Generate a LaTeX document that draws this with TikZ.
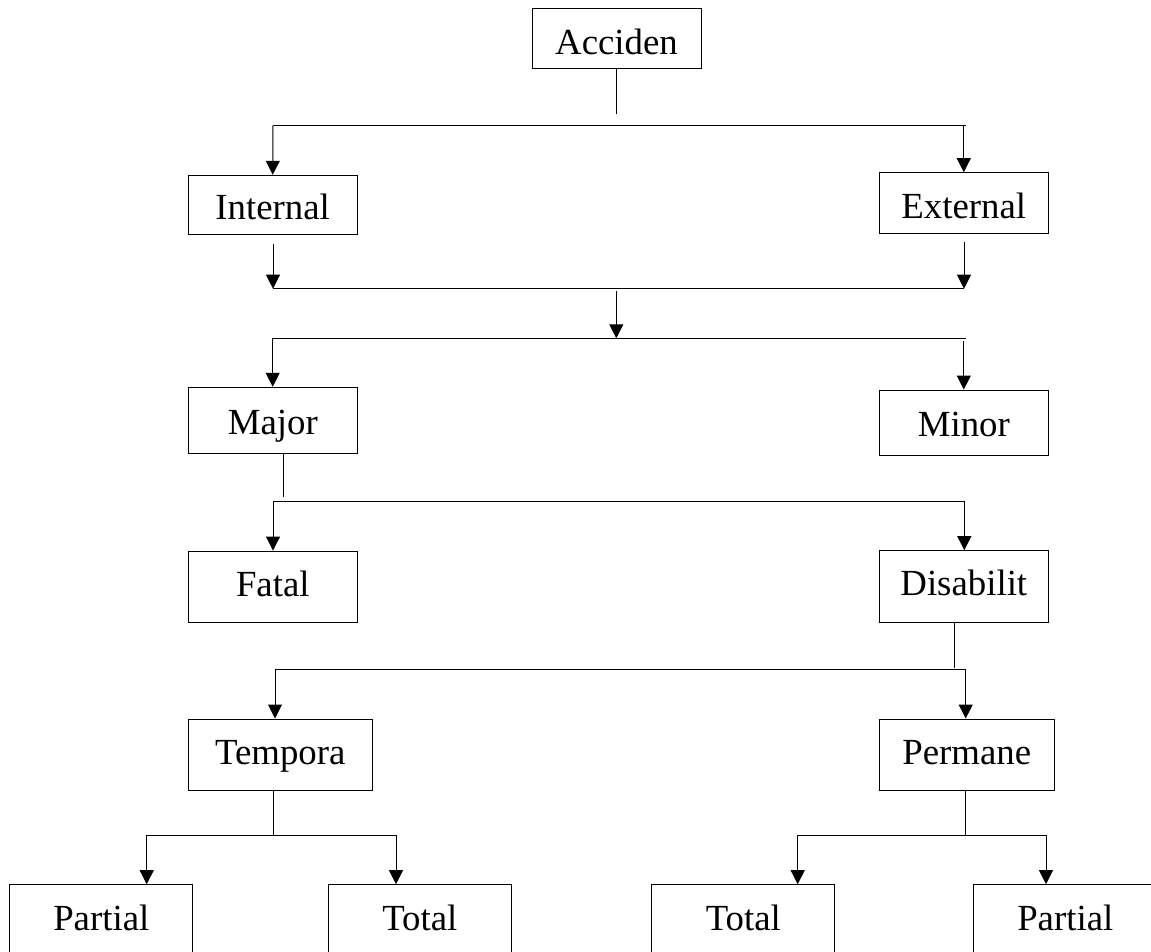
\documentclass[tikz,border=0pt]{standalone}
\usepackage{fontspec}
\setmainfont{Liberation Serif}
\usetikzlibrary{arrows.meta}
\begin{document}
\begin{tikzpicture}[x=1pt,y=-1pt,
  box/.style={draw=black,line width=1pt,inner sep=0pt,font=\fontsize{36.8}{44}\selectfont},
  bl/.style={text height=#1,text depth=0pt},
  conn/.style={draw=black,line width=1pt},
  arr/.style={conn,-{Triangle[width=14pt,length=14pt]}}]
\useasboundingbox (0,0) rectangle (1151,952);
\clip (0,0) rectangle (1151,952);
% boxes
\node[box,bl=32pt,minimum width=169pt,minimum height=60pt] (acc) at (616.5,39) {Acciden};
\node[box,bl=30.4pt,minimum width=169pt,minimum height=59pt] (int) at (272.7,204.8) {Internal};
\node[box,bl=30.6pt,minimum width=169pt,minimum height=60.6pt] (ext) at (963.8,203) {External};
\node[box,bl=27.4pt,minimum width=169pt,minimum height=66pt] (maj) at (272.8,420.3) {Major};
\node[box,bl=26.6pt,minimum width=169pt,minimum height=65.3pt] (min) at (963.8,422.7) {Minor};
\node[box,bl=20pt,minimum width=169pt,minimum height=71.3pt] (fat) at (272.8,586.7) {Fatal};
\node[box,bl=18.4pt,minimum width=169pt,minimum height=71.6pt] (dis) at (963.8,586.5) {Disabilit};
\node[box,bl=19pt,minimum width=184pt,minimum height=71pt] (tem) at (280.3,754.5) {Tempora};
\node[box,bl=19pt,minimum width=175pt,minimum height=71pt] (per) at (966.8,754.5) {Permane};
\node[box,bl=22pt,minimum width=182.7pt,minimum height=70pt] (pa1) at (101.3,919.7) {Partial};
\node[box,bl=22pt,minimum width=183pt,minimum height=70pt] (to1) at (419.8,919.7) {Total};
\node[box,bl=22pt,minimum width=183.3pt,minimum height=70pt] (to2) at (743.3,919.7) {Total};
\node[box,bl=22pt,minimum width=183.3pt,minimum height=70pt] (pa2) at (1065.3,919.7) {Partial};
% junction coordinates
\coordinate (a1) at (616.3,114);
\coordinate (h1l) at (273,125.3);
\coordinate (h1r) at (965.7,125.3);
\coordinate (h2l) at (273,288.7);
\coordinate (h2r) at (964,288.7);
\coordinate (m2) at (616.3,291);
\coordinate (h3m) at (616.3,338.3);
\coordinate (h3l) at (272.7,338.3);
\coordinate (h3r) at (965.7,338.3);
\coordinate (s3) at (283,497.3);
\coordinate (h4l) at (273,501.3);
\coordinate (h4r) at (964.3,501.3);
\coordinate (s4) at (954.3,667.7);
\coordinate (h5l) at (275,669.3);
\coordinate (h5r) at (965.7,669.3);
\coordinate (s5) at (273.3,835);
\coordinate (h6l) at (146.7,835);
\coordinate (h6r) at (396,835);
\coordinate (s6) at (965.7,835);
\coordinate (h7l) at (797.7,835);
\coordinate (h7r) at (1046,835);
% level 1
\draw[conn] (acc.south -| a1) -- (a1);
\draw[conn] (h1l) -- (h1r);
\draw[arr] (h1l) -- (int.north);
\draw[arr] (h1r -| ext.north) -- (ext.north);
% level 2
\draw[arr,shorten <=9pt] (int.south -| h2l) -- (h2l);
\draw[arr,shorten <=8pt] (ext.south -| h2r) -- (h2r);
\draw[conn] (h2l) -- (h2r);
\draw[arr] (m2) -- (h3m);
% level 3
\draw[conn] (h3l) -- (h3r);
\draw[arr] (h3l) -- (h3l |- maj.north);
\draw[arr,shorten <=2.4pt] (h3r -| min.north) -- (min.north);
% level 4
\draw[conn] (maj.south -| s3) -- (s3);
\draw[conn] (h4l) -- (h4r);
\draw[arr] (h4l) -- (h4l |- fat.north);
\draw[arr] (h4r) -- (h4r |- dis.north);
% level 5
\draw[conn] (dis.south -| s4) -- (s4);
\draw[conn] (h5l) -- (h5r);
\draw[arr] (h5l) -- (h5l |- tem.north);
\draw[arr] (h5r) -- (h5r |- per.north);
% level 6
\draw[conn] (tem.south -| s5) -- (s5);
\draw[conn] (h6l) -- (h6r);
\draw[arr] (h6l) -- (h6l |- pa1.north);
\draw[arr] (h6r) -- (h6r |- to1.north);
\draw[conn] (per.south -| s6) -- (s6);
\draw[conn] (h7l) -- (h7r);
\draw[arr] (h7l) -- (h7l |- to2.north);
\draw[arr] (h7r) -- (h7r |- pa2.north);
\end{tikzpicture}
\end{document}
